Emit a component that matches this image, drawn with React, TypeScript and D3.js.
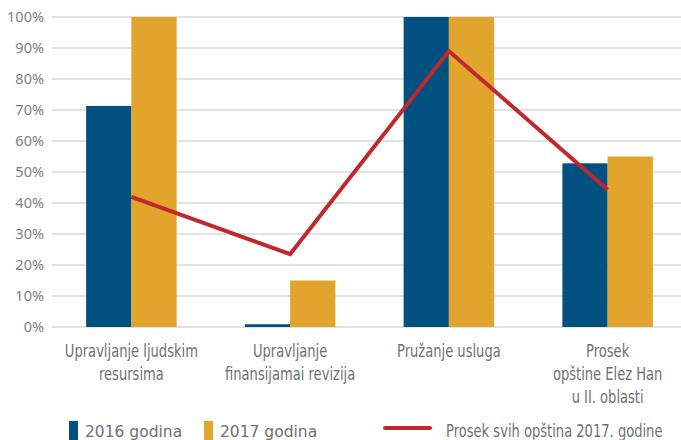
import React, { useRef, useEffect } from "react";
import * as d3 from "d3";

const categories = [
  ["Upravljanje ljudskim", "resursima"],
  ["Upravljanje", "finansijamai revizija"],
  ["Pružanje usluga"],
  ["Prosek", "opštine Elez Han", "u II. oblasti"],
];
const values2016 = [71.3, 0.9, 100, 52.8];
const values2017 = [100, 15, 100, 55];
const avgAll2017 = [42, 23.5, 89, 44.3];
const yTicks = [0, 10, 20, 30, 40, 50, 60, 70, 80, 90, 100];

const W = 681;
const H = 440;
const BLUE = "#005180";
const ORANGE = "#E1A42C";
const RED = "#C1272D";
const TEXT = "#707070";
// no condensed font here, so squeeze a normal one horizontally
const narrow = "'DejaVu Sans', sans-serif";
const SQUEEZE = 0.77;

const App = () => {
  const svgRef = useRef<SVGSVGElement>(null);

  useEffect(() => {
    const svg = d3.select(svgRef.current);
    svg.selectAll("*").remove();

    const left = 52;
    const right = 687;
    const top = 17;
    const bottom = 327;

    const x = d3
      .scaleBand<number>()
      .domain(categories.map((_, i) => i))
      .range([left, right])
      .paddingInner(0.43)
      .paddingOuter(0.215);
    const x1 = d3.scaleBand<number>().domain([0, 1]).range([0, x.bandwidth()]);
    const y = d3.scaleLinear().domain([0, 100]).range([bottom, top]);

    // gridlines
    svg
      .append("g")
      .selectAll("line")
      .data(yTicks)
      .join("line")
      .attr("x1", left)
      .attr("x2", W)
      .attr("y1", (d) => y(d))
      .attr("y2", (d) => y(d))
      .attr("stroke", "#d9d9d9")
      .attr("stroke-width", 1.5);

    // y tick labels
    svg
      .append("g")
      .selectAll("text")
      .data(yTicks)
      .join("text")
      .attr("x", 44)
      .attr("y", (d) => y(d))
      .attr("dy", "0.35em")
      .attr("text-anchor", "end")
      .attr("font-family", "'Noto Sans', sans-serif")
      .attr("font-size", 14.5)
      .attr("fill", "#808080")
      .text((d) => `${d}%`);

    // bars
    const series = [values2016, values2017];
    const colors = [BLUE, ORANGE];
    series.forEach((vals, s) => {
      svg
        .append("g")
        .selectAll("rect")
        .data(vals)
        .join("rect")
        .attr("x", (_, i) => (x(i) as number) + (x1(s) as number))
        .attr("y", (d) => y(d))
        .attr("width", x1.bandwidth())
        .attr("height", (d) => bottom - y(d))
        .attr("fill", colors[s]);
    });

    // line
    const line = d3
      .line<number>()
      .x((_, i) => (x(i) as number) + x.bandwidth() / 2)
      .y((d) => y(d));
    svg
      .append("path")
      .datum(avgAll2017)
      .attr("d", line)
      .attr("fill", "none")
      .attr("stroke", RED)
      .attr("stroke-width", 4)
      .attr("stroke-linejoin", "miter");

    // category labels
    const labels = svg
      .append("g")
      .selectAll("g")
      .data(categories)
      .join("g")
      .attr(
        "transform",
        (_, i) =>
          `translate(${(x(i) as number) + x.bandwidth() / 2},357) scale(${SQUEEZE},1)`
      )
      .append("text")
      .attr("text-anchor", "middle")
      .attr("font-family", narrow)
      .attr("font-size", 17)
      .attr("fill", TEXT);
    labels
      .selectAll("tspan")
      .data((d) => d)
      .join("tspan")
      .attr("x", 0)
      .attr("dy", (_, j) => (j === 0 ? 0 : 23))
      .text((d) => d);

    // legend
    const lg = svg.append("g");
    const legendBars = [
      { label: "2016 godina", color: BLUE, x: 69 },
      { label: "2017 godina", color: ORANGE, x: 204 },
    ];
    legendBars.forEach((l) => {
      lg.append("rect")
        .attr("x", l.x)
        .attr("y", 421)
        .attr("width", 9)
        .attr("height", 19)
        .attr("fill", l.color);
      lg.append("text")
        .attr("x", l.x + 16)
        .attr("y", 437)
        .attr("font-family", "'DejaVu Sans', sans-serif")
        .attr("font-size", 15.5)
        .attr("fill", TEXT)
        .text(l.label);
    });
    lg.append("line")
      .attr("x1", 385)
      .attr("x2", 430)
      .attr("y1", 428)
      .attr("y2", 428)
      .attr("stroke", RED)
      .attr("stroke-width", 4)
      .attr("stroke-linecap", "round");
    lg.append("g")
      .attr("transform", `translate(446,437) scale(${SQUEEZE},1)`)
      .append("text")
      .attr("font-family", narrow)
      .attr("font-size", 17)
      .attr("fill", TEXT)
      .text("Prosek svih opština 2017. godine");
  }, []);

  return (
    <svg
      ref={svgRef}
      width={W}
      height={H}
      style={{ position: "absolute", left: 0, top: 0, background: "#fff" }}
    />
  );
};

export default App;
